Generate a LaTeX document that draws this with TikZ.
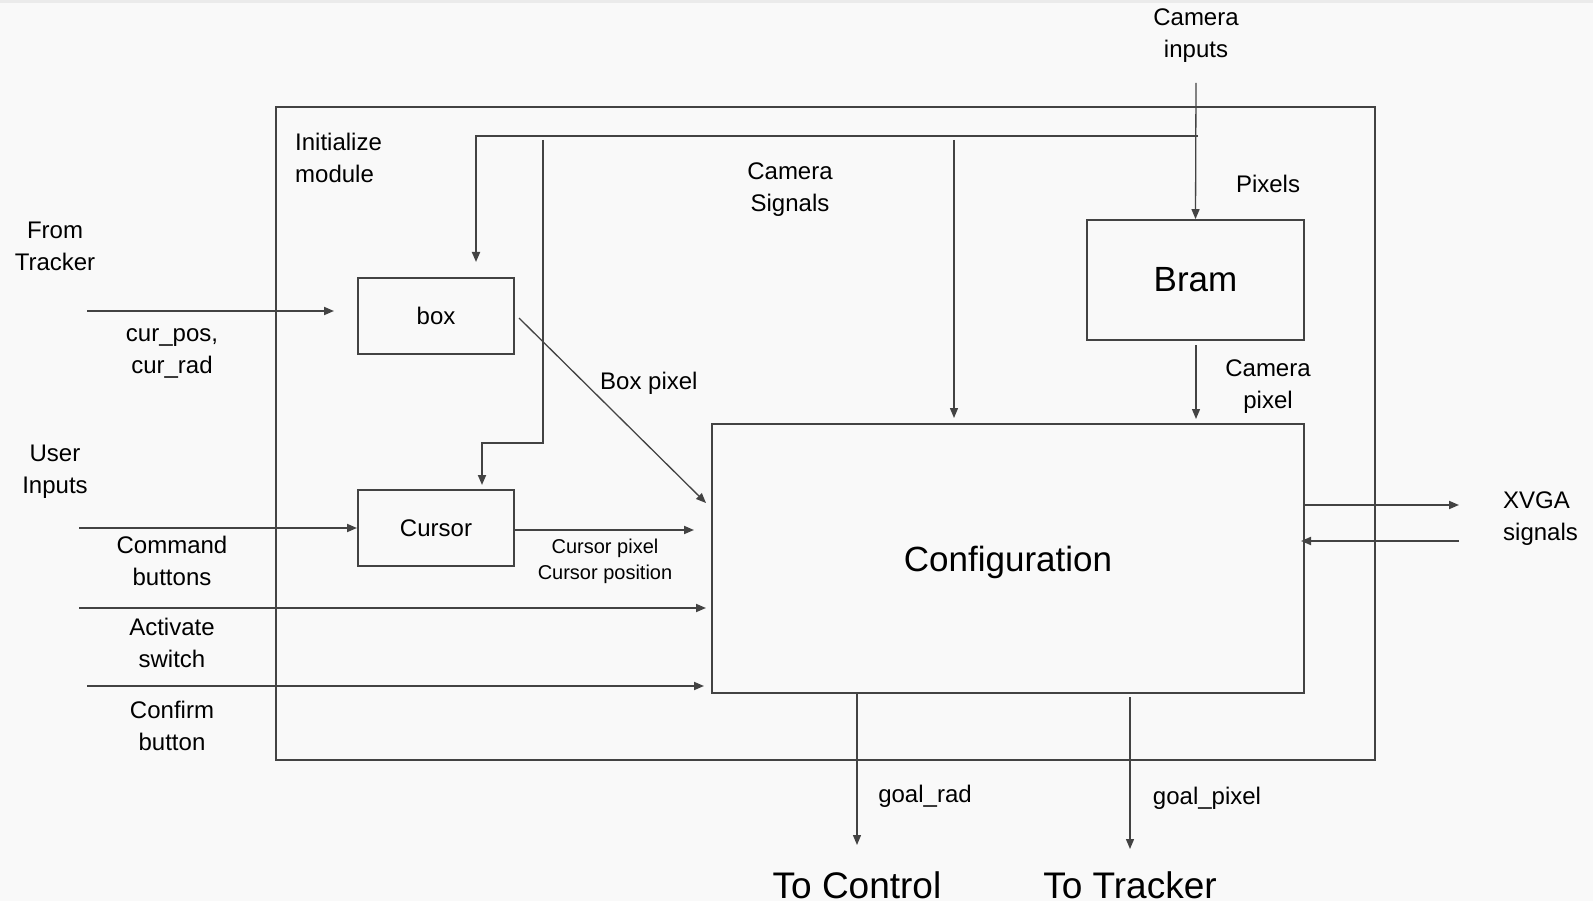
\documentclass[tikz,border=0pt]{standalone}
\usepackage{fontspec}
\setmainfont{Liberation Sans}
\usetikzlibrary{arrows.meta}
\definecolor{ln}{HTML}{434343}
\definecolor{bg}{HTML}{F9F9F9}
\begin{document}
\begin{tikzpicture}[x=1pt,y=-1pt,
  lbl/.style={font=\fontsize{24}{32}\selectfont, align=center, inner sep=0pt},
  small/.style={font=\fontsize{20}{26}\selectfont, align=center, inner sep=0pt},
  big/.style={font=\fontsize{35}{42}\selectfont, inner sep=0pt},
  blk/.style={draw=ln, line width=1.8pt, inner sep=0pt},
  wire/.style={draw=ln, line width=1.8pt},
  thinw/.style={draw=ln, line width=1.3pt},
  arr/.style={-{Triangle[length=10pt,width=8pt]}},
]
\fill[bg] (0,0) rectangle (1593,901);
\fill[black!8] (0,0) rectangle (1593,3);
\useasboundingbox (0,0) rectangle (1593,901);

% blocks
\node[blk, minimum width=1099pt, minimum height=653pt] (outer) at (825.5,433.5) {};
\node[blk, lbl, minimum width=156pt, minimum height=76pt] (box) at (436,316) {box};
\node[blk, lbl, minimum width=156pt, minimum height=76pt] (cursor) at (436,528) {Cursor};
\node[blk, big, minimum width=217pt, minimum height=120pt, text height=23pt] (bram) at (1195.5,280) {Bram};
\node[blk, big, minimum width=592pt, minimum height=269pt, text depth=0pt] (config) at (1008,558.5) {Configuration};

% coordinates
\coordinate (topR) at (1198,136);
\coordinate (boxin) at (476,262);
\coordinate (v2top) at (543,140);
\coordinate (v2bot) at (543,443);
\coordinate (curin) at (482,485);
\coordinate (camin) at (1196,83);
\coordinate (camsig) at (954,140);
\coordinate (camsigE) at (954,418);
\coordinate (campixS) at (1196,345);
\coordinate (campixE) at (1196,419);
\coordinate (bpS) at (519,318);
\coordinate (bpE) at (706,503);
\coordinate (ftS) at (87,311);
\coordinate (ftE) at (334,311);
\coordinate (cmS) at (79,528);
\coordinate (cmE) at (357,528);
\coordinate (coS) at (515,530);
\coordinate (coE) at (694,530);
\coordinate (acS) at (79,608);
\coordinate (acE) at (706,608);
\coordinate (cfS) at (87,686);
\coordinate (cfE) at (704,686);
\coordinate (xoS) at (1304,505);
\coordinate (xoE) at (1459,505);
\coordinate (xiS) at (1459,541);
\coordinate (xiE) at (1301,541);
\coordinate (grS) at (857,693);
\coordinate (grE) at (857,845);
\coordinate (gpS) at (1130,697);
\coordinate (gpE) at (1130,849);

% connectors
\draw[wire,arr] (topR) -| (boxin);
\draw[wire,arr] (v2top) -- (v2bot) -| (curin);
\draw[thinw,arr] (camin) -- (bram.north);
\draw[thinw,arr] (camsig) -- (camsigE);
\draw[thinw,arr] (campixS) -- (campixE);
\draw[thinw,arr] (bpS) -- (bpE);
\draw[wire,arr] (ftS) -- (ftE);
\draw[wire,arr] (cmS) -- (cmE);
\draw[wire,arr] (coS) -- (coE);
\draw[wire,arr] (acS) -- (acE);
\draw[wire,arr] (cfS) -- (cfE);
\draw[wire,arr] (xoS) -- (xoE);
\draw[wire,arr] (xiS) -- (xiE);
\draw[thinw,arr] (grS) -- (grE);
\draw[thinw,arr] (gpS) -- (gpE);

% labels
\node[lbl] (tcam) at (1196,35.5) {Camera\\inputs};
\node[lbl, anchor=west, align=left] (tinit) at (295,158) {Initialize\\module};
\node[lbl] (tsig) at (790,190) {Camera\\Signals};
\node[lbl] (tpix) at (1268,184) {Pixels};
\node[lbl] (tcpx) at (1268,387) {Camera\\pixel};
\node[lbl] (tft) at (55,246) {From\\Tracker};
\node[lbl] (tcur) at (172,353) {cur\_pos,\\cur\_rad};
\node[lbl, anchor=west] (tbp) at (600,383) {Box pixel};
\node[lbl] (tui) at (55,472) {User\\Inputs};
\node[lbl] (tcmd) at (172,561) {Command\\buttons};
\node[small] (tcp) at (605,561) {Cursor pixel\\Cursor position};
\node[lbl] (tact) at (172,642.5) {Activate\\switch};
\node[lbl] (tcf) at (172,725.5) {Confirm\\button};
\node[lbl, anchor=west, align=left] (txv) at (1503,519) {XVGA\\signals};
\node[lbl] (tgr) at (925,796) {goal\_rad};
\node[lbl] (tgp) at (1207,798) {goal\_pixel};
\node[font=\fontsize{37}{44}\selectfont, inner sep=0pt] (tctl) at (857,885) {To Control};
\node[font=\fontsize{37}{44}\selectfont, inner sep=0pt] (ttr) at (1130,885) {To Tracker};
\end{tikzpicture}
\end{document}
